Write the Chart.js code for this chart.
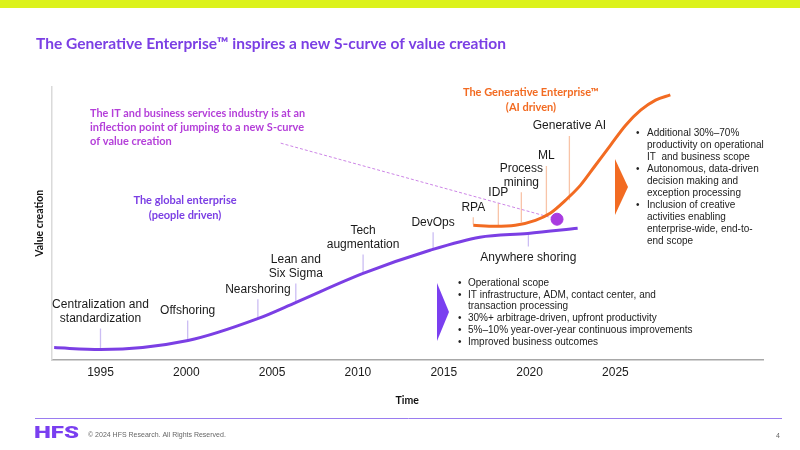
<!DOCTYPE html>
<html>
<head>
<meta charset="utf-8">
<script src="https://cdn.jsdelivr.net/npm/chart.js@4.4.0/dist/chart.umd.min.js"></script>
<style>
  html, body { margin: 0; padding: 0; background: #fff; }
  #wrap { width: 800px; height: 450px; }
</style>
</head>
<body>
<div id="wrap"><canvas id="scurve" width="800" height="450"></canvas></div>
<script>
// people-driven S-curve (year -> value creation, 0-100)
const globalYears  = [1992.3, 1995, 2000.1, 2004.2, 2006.4, 2010.3, 2014.2, 2017.1, 2019.9, 2022.8];
const globalValues = [4.4, 3.7, 7.0, 15.1, 21.0, 31.6, 40.1, 44.9, 46.3, 48.2];

// AI-driven S-curve
const genYears  = [2016.72, 2018.0, 2019.17, 2020.34, 2021.2, 2022.1, 2022.97, 2023.84, 2024.72, 2025.6, 2026.47, 2027.34, 2028.2];
const genValues = [49.3, 48.9, 49.3, 51.1, 53.7, 58.5, 64.0, 71.3, 78.7, 86.0, 91.5, 95.2, 97.1];

// milestones along the people-driven curve
const globalLabels   = [['Centralization and', 'standardization'], ['Offshoring'], ['Nearshoring'], ['Lean and', 'Six Sigma'], ['Tech', 'augmentation'], ['DevOps'], ['Anywhere shoring']];
const globalMarkYear = [1995.0, 2000.08, 2004.17, 2006.38, 2010.3, 2014.38, 2019.93];
const globalMarkFrom = [3.7, 7.0, 15.1, 21.0, 31.6, 40.1, 46.3];
const globalMarkTo   = [11.4, 14.3, 22.1, 27.9, 38.6, 46.7, 41.5];

// milestones along the AI-driven curve
const genLabels   = [['RPA'], ['IDP'], ['Process', 'mining'], ['ML'], ['Generative AI']];
const genMarkYear = [2016.72, 2018.18, 2019.52, 2020.98, 2022.32];
const genMarkFrom = [49.6, 49.3, 50.4, 52.9, 58.5];
const genMarkTo   = [52.2, 57.4, 61.4, 71.0, 82.0];

const inflectionPoint = [2021.6, 51.5];
const calloutStart    = [2005.5, 79.4];

const xTicks = [1995, 2000, 2005, 2010, 2015, 2020, 2025];

const rightNotes = [
  ['Additional 30%\u201370%', 'productivity on operational', 'IT  and business scope'],
  ['Autonomous, data-driven', 'decision making and', 'exception processing'],
  ['Inclusion of creative', 'activities enabling', 'enterprise-wide, end-to-', 'end scope']
];
const bottomNotes = [
  ['Operational scope'],
  ['IT infrastructure, ADM, contact center, and', 'transaction processing'],
  ['30%+ arbitrage-driven, upfront productivity'],
  ['5%\u201310% year-over-year continuous improvements'],
  ['Improved business outcomes']
];

const PURPLE = '#7b3fe4';
const ORANGE = '#f26b22';
const MAGENTA = '#b43fd9';
const SANS = '"Liberation Sans", Arial, sans-serif';
const HUM = 'Lato, "Open Sans", sans-serif';

const zip = (xs, ys) => xs.map((x, i) => ({ x: x, y: ys[i] }));

function leaderSets(years, from, to, color) {
  return years.map((yr, i) => ({
    type: 'line',
    data: [{ x: yr, y: from[i] }, { x: yr, y: to[i] }],
    borderColor: color,
    borderWidth: 1.3,
    pointRadius: 0
  }));
}

function textLines(ctx, lines, x, y, lh) {
  lines.forEach((t, i) => ctx.fillText(t, x, y + i * lh));
}

function bulletBlock(ctx, items, bx, tx, y0, lh) {
  let y = y0;
  items.forEach(item => {
    ctx.fillText('\u2022', bx, y);
    item.forEach(t => { ctx.fillText(t, tx, y); y += lh; });
  });
}

const slideDecor = {
  id: 'slideDecor',
  afterDatasetsDraw(chart) {
    const { ctx, scales: { x, y } } = chart;
    ctx.save();
    ctx.textBaseline = 'middle';

    // milestone labels, anchored to the top of each leader
    ctx.fillStyle = '#1a1a1a';
    ctx.font = '12px ' + SANS;
    ctx.textAlign = 'center';
    globalLabels.forEach((lab, i) => {
      const px = x.getPixelForValue(globalMarkYear[i]);
      const from = globalMarkFrom[i], to = globalMarkTo[i];
      if (to < from) {
        textLines(ctx, lab, px, y.getPixelForValue(to) + 11, 14);
      } else {
        const top = y.getPixelForValue(to) - 10;
        textLines(ctx, lab, px, top - (lab.length - 1) * 14, 14);
      }
    });
    genLabels.forEach((lab, i) => {
      const px = x.getPixelForValue(genMarkYear[i]);
      const top = y.getPixelForValue(genMarkTo[i]) - 10;
      textLines(ctx, lab, px, top - (lab.length - 1) * 14, 14);
    });

    // callouts
    ctx.font = 'bold 11px ' + HUM;
    ctx.fillStyle = MAGENTA;
    ctx.textAlign = 'left';
    ['The IT and business services industry is at an',
     'inflection point of jumping to a new S-curve',
     'of value creation'].forEach((t, i) => ctx.fillText(t, 90, 113 + i * 14, 215));

    ctx.fillStyle = PURPLE;
    ctx.textAlign = 'center';
    textLines(ctx, ['The global enterprise', '(people driven)'], 185, 200, 15);

    ctx.fillStyle = ORANGE;
    textLines(ctx, ['The Generative Enterprise\u2122', '(AI driven)'], 531, 92, 15);

    // bullet notes
    ctx.fillStyle = '#222';
    ctx.font = '10px ' + SANS;
    ctx.textAlign = 'left';
    bulletBlock(ctx, rightNotes, 636, 647, 133, 12);
    bulletBlock(ctx, bottomNotes, 458, 468, 283, 11.8);

    // chevrons
    ctx.fillStyle = ORANGE;
    ctx.beginPath();
    ctx.moveTo(615, 159); ctx.lineTo(628, 187); ctx.lineTo(615, 215); ctx.closePath(); ctx.fill();
    ctx.fillStyle = '#7a3ff0';
    ctx.beginPath();
    ctx.moveTo(437, 283); ctx.lineTo(449, 312); ctx.lineTo(437, 341); ctx.closePath(); ctx.fill();

    // slide chrome
    ctx.fillStyle = '#dcf21c';
    ctx.fillRect(0, 0, 800, 8);
    ctx.fillStyle = PURPLE;
    ctx.font = 'bold 16px ' + HUM;
    ctx.textAlign = 'left';
    ctx.fillText('The Generative Enterprise\u2122 inspires a new S-curve of value creation', 36, 44, 470);

    ctx.strokeStyle = '#9a7cf0';
    ctx.lineWidth = 1;
    ctx.beginPath(); ctx.moveTo(35, 418.5); ctx.lineTo(782, 418.5); ctx.stroke();

    // logo, stretched wide like the HFS mark
    ctx.save();
    ctx.translate(34, 434);
    ctx.scale(1.5, 1);
    ctx.fillStyle = '#7a3ff0';
    ctx.font = '900 16px Roboto, sans-serif';
    ctx.fillText('HFS', 0, 0);
    ctx.restore();

    ctx.fillStyle = '#666';
    ctx.font = '7px ' + SANS;
    ctx.fillText('\u00a9 2024 HFS Research. All Rights Reserved.', 88, 435);
    ctx.textAlign = 'right';
    ctx.fillText('4', 780, 436);
    ctx.restore();
  }
};

new Chart(document.getElementById('scurve'), {
  type: 'line',
  data: {
    datasets: [
      {
        type: 'scatter',
        data: [{ x: inflectionPoint[0], y: inflectionPoint[1] }],
        backgroundColor: '#a93be0',
        borderColor: '#a93be0',
        pointRadius: 6
      },
      {
        data: zip(genYears, genValues),
        borderColor: ORANGE,
        borderWidth: 3,
        pointRadius: 0,
        cubicInterpolationMode: 'monotone'
      },
      {
        data: zip(globalYears, globalValues),
        borderColor: PURPLE,
        borderWidth: 3,
        pointRadius: 0,
        cubicInterpolationMode: 'monotone'
      },
      {
        data: [{ x: calloutStart[0], y: calloutStart[1] }, { x: inflectionPoint[0], y: inflectionPoint[1] }],
        borderColor: '#cc85e6',
        borderWidth: 1,
        borderDash: [3, 2],
        pointRadius: 0
      },
      ...leaderSets(globalMarkYear, globalMarkFrom, globalMarkTo, '#cbbdf3'),
      ...leaderSets(genMarkYear, genMarkFrom, genMarkTo, '#f8c4a8')
    ]
  },
  options: {
    responsive: false,
    animation: false,
    layout: { padding: { left: 33.8, right: 37, top: 87, bottom: 43.4 } },
    plugins: { legend: { display: false }, tooltip: { enabled: false } },
    scales: {
      x: {
        type: 'linear',
        min: 1992.14,
        max: 2033.6,
        grid: { display: false, drawTicks: false },
        border: { display: true, color: '#a8a8a8', width: 1.5 },
        afterBuildTicks: axis => { axis.ticks = xTicks.map(v => ({ value: v })); },
        ticks: {
          padding: 6,
          color: '#1a1a1a',
          font: { family: SANS, size: 12 },
          maxRotation: 0,
          autoSkip: false,
          callback: v => String(v)
        },
        title: {
          display: true,
          text: 'Time',
          color: '#111',
          font: { family: HUM, size: 10.5, weight: 'bold' },
          padding: { top: 8, bottom: 0 }
        }
      },
      y: {
        min: 0,
        max: 100,
        grid: { display: false, drawTicks: false },
        border: { display: true, color: '#dadada', width: 1.5 },
        ticks: { display: false },
        title: {
          display: true,
          text: 'Value creation',
          color: '#111',
          font: { family: HUM, size: 10.5, weight: 'bold' },
          padding: { top: 0, bottom: 5 }
        }
      }
    }
  },
  plugins: [slideDecor]
});
</script>
</body>
</html>
